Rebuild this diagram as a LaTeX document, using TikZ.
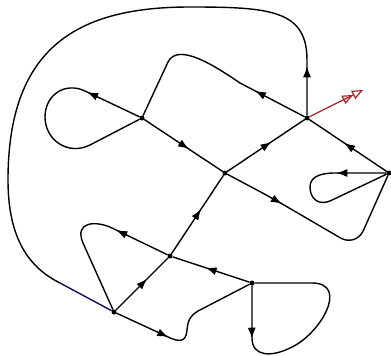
\documentclass[tikz,border=0pt]{standalone}
\usepackage{tikz}
\usetikzlibrary{arrows.meta, decorations.markings}
\definecolor{color_edge}{HTML}{000000}
\definecolor{color_spin}{HTML}{B22222}
\definecolor{color_tail}{HTML}{10105A}
\tikzset{
  vertex_dot/.style={circle, fill=color_edge, inner sep=0pt, minimum size=5pt},
  edge_line/.style={draw=color_edge, line width=1.4pt, line join=round},
  edge_flow/.style={postaction={decorate}, decoration={markings, mark=at position #1 with {\arrow{Latex[length=11pt, width=8pt]}}}},
  edge_tail/.style={draw=color_tail, line width=1.4pt},
  spin_arrow/.style={draw=color_spin, line width=1.2pt, -{Triangle[open, length=11pt, width=9pt] Triangle[open, length=11pt, width=9pt]}},
}

\begin{document}
\begin{tikzpicture}[x=1pt, y=-1pt]
    \useasboundingbox (0,0) rectangle (391,356);
    \node[vertex_dot] (A) at (307,118) {};
    \node[vertex_dot] (B) at (142,118) {};
    \node[vertex_dot] (C) at (225,173) {};
    \node[vertex_dot] (D) at (389,173) {};
    \node[vertex_dot] (E) at (170,256) {};
    \node[vertex_dot] (F) at (252,283) {};
    \node[vertex_dot] (G) at (114,312) {};
    \coordinate (G_join) at (60,283);
    \coordinate (A_spin) at (363,90);

    % straight edges
    \draw[edge_line, edge_flow=0.57] (B) -- (C);
    \draw[edge_line, edge_flow=0.57] (C) -- (A);
    \draw[edge_line, edge_flow=0.55] (D) -- (A);
    \draw[edge_line, edge_flow=0.57] (E) -- (C);
    \draw[edge_line, edge_flow=0.6] (G) -- (E);
    \draw[edge_line, edge_flow=0.57] (F) -- (E);

    % curved edges and loops
    \draw[edge_line, edge_flow=49pt] (A) -- (307,60) .. controls (307,10) and (270,7) .. (190,7)
        .. controls (80,7) and (8,45) .. (8,180) .. controls (8,240) and (30,268) .. (G_join);
    \draw[edge_tail] (G_join) -- (G);
    \draw[edge_line, edge_flow=56pt] (A) -- (240,83) .. controls (215,66) and (178,42) .. (168,62) -- (B);
    \draw[edge_line, edge_flow=58pt] (B) -- (85,91) .. controls (65,81.5) and (45,95) .. (45,117)
        .. controls (45,140) and (68,156) .. (90,145) -- (B);
    \draw[edge_line, edge_flow=50pt] (D) -- (335,173) .. controls (318,173) and (310,178) .. (310,187)
        .. controls (310,198) and (318,206) .. (330,201) -- (D);
    \draw[edge_line, rounded corners=18pt, edge_flow=62pt] (C) -- (272,198) -- (356,247) -- (D);
    \draw[edge_line, edge_flow=57pt] (E) -- (112,228) .. controls (95,220) and (74,222) .. (83,243) -- (G);
    \draw[edge_line, edge_flow=57pt] (G) -- (166,336) .. controls (180,343) and (186,342) .. (187,330)
        .. controls (188,320) and (190,316) .. (198,311) -- (F);
    \draw[edge_line, edge_flow=53pt] (F) -- (252,338) .. controls (252,357) and (272,357) .. (290,348)
        .. controls (320,335) and (350,283) .. (312,283) -- (F);

    % spin vector
    \draw[spin_arrow] (A) -- (A_spin);
\end{tikzpicture}
\end{document}
